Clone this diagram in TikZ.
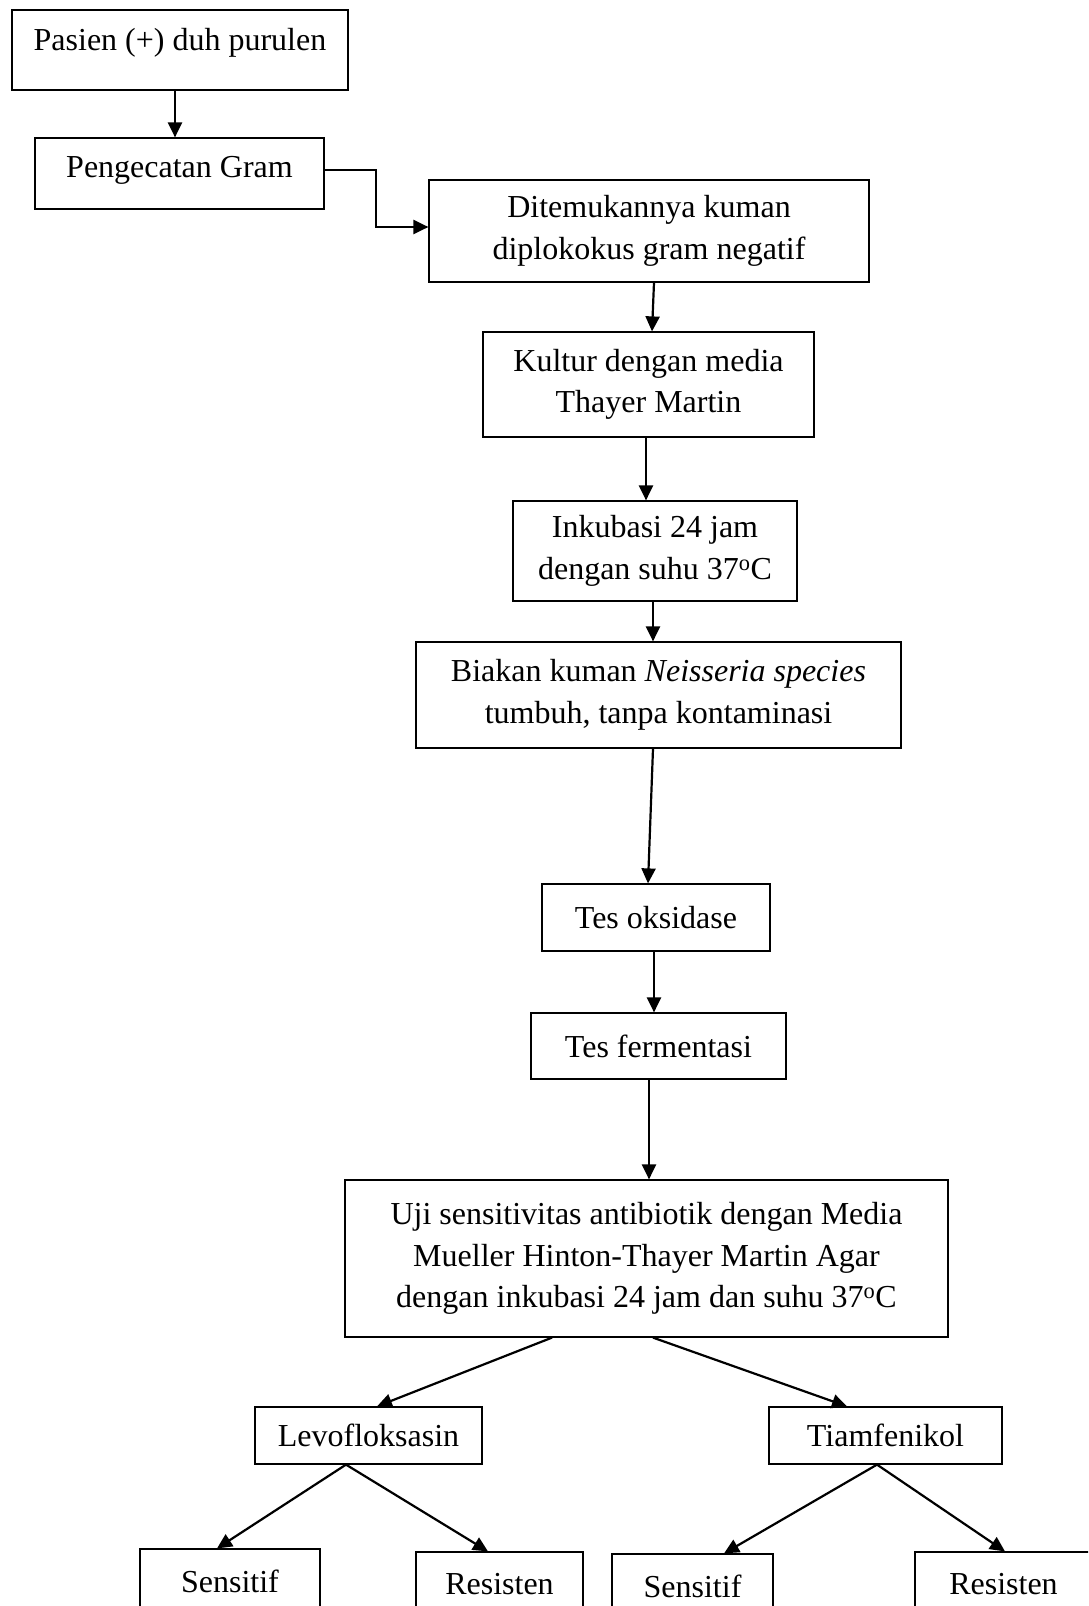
\documentclass[tikz,border=0pt]{standalone}
\usepackage{fontspec}
\setmainfont{Liberation Serif}
\usepackage{tikz}
\usetikzlibrary{arrows.meta,positioning,calc}
\tikzset{
  stepbox/.style={draw=black,line width=1.2pt,align=center,inner sep=0pt,
    font=\fontsize{32}{41.5}\selectfont},
  flow/.style={-{Triangle[length=15pt,width=14pt]},line width=2.2pt}
}
\begin{document}
\begin{tikzpicture}[x=1pt,y=-1pt]
\useasboundingbox (0,0) rectangle (1088,1606);
\clip (0,0) rectangle (1088,1606);
% upper chain
\node[stepbox, minimum width=336pt, minimum height=80pt, text height=21pt, text depth=20pt]
  (pasien) at (180,50) {Pasien (+) duh purulen};
\node[stepbox, minimum width=289pt, minimum height=71pt, text height=21pt, text depth=13pt]
  (gram) at (179.5,173.5) {Pengecatan Gram};
\node[stepbox, minimum width=440pt, minimum height=102pt] (diplo) at (649,231)
  {Ditemukannya kuman\\diplokokus gram negatif};
\node[stepbox, minimum width=331pt, minimum height=105pt] (kultur) at (648.5,384.5)
  {Kultur dengan media\\Thayer Martin};
\node[stepbox, minimum width=284pt, minimum height=100pt] (inkubasi) at (655,551)
  {Inkubasi 24 jam\\dengan suhu 37\textsuperscript{o}C};
\node[stepbox, minimum width=485pt, minimum height=106pt] (biakan) at (658.5,695)
  {Biakan kuman \textit{Neisseria species}\\tumbuh, tanpa kontaminasi};
\node[stepbox, minimum width=228pt, minimum height=67pt] (oksidase) at (656,917.5)
  {Tes oksidase};
\node[stepbox, minimum width=255pt, minimum height=66pt] (fermentasi) at (658.5,1046)
  {Tes fermentasi};
\node[stepbox, minimum width=603pt, minimum height=157pt] (uji) at (646.5,1258.5)
  {Uji sensitivitas antibiotik dengan Media\\Mueller Hinton-Thayer Martin Agar\\dengan inkubasi 24 jam dan suhu 37\textsuperscript{o}C};
% antibiotics and results
\node[stepbox, minimum width=227pt, minimum height=57pt] (levo) at (368.5,1435.5)
  {Levofloksasin};
\node[stepbox, minimum width=233pt, minimum height=57pt] (tiam) at (885.5,1435.5)
  {Tiamfenikol};
\node[stepbox, minimum width=180pt, minimum height=64pt] (sens1) at (230,1581) {Sensitif};
\node[stepbox, minimum width=167pt, minimum height=64pt] (res1) at (499.5,1584) {Resisten};
\node[stepbox, minimum width=161pt, minimum height=64pt] (sens2) at (692.5,1586) {Sensitif};
\node[stepbox, minimum width=177pt, minimum height=64pt] (res2) at (1003.5,1584) {Resisten};
% connectors
\draw[flow] ([xshift=-5pt]pasien.south) -- ([xshift=-4.5pt]gram.north);
\draw[flow] ([yshift=3.5pt]gram.east) -- ++(51,0) |- ([yshift=4pt]diplo.west);
\draw[flow] ([xshift=5pt]diplo.south) -- ([xshift=3.5pt]kultur.north);
\draw[flow] ([xshift=-2.5pt]kultur.south) -- ([xshift=-9pt]inkubasi.north);
\draw[flow] ([xshift=-2pt]inkubasi.south) -- ([xshift=-5.5pt]biakan.north);
\draw[flow] ([xshift=-5.5pt]biakan.south) -- ([xshift=-8pt]oksidase.north);
\draw[flow] ([xshift=-2pt]oksidase.south) -- ([xshift=-4.5pt]fermentasi.north);
\draw[flow] ([xshift=-9.5pt]fermentasi.south) -- ([xshift=2.5pt]uji.north);
\draw[flow] ([xshift=-94.5pt]uji.south) -- ([xshift=8.5pt]levo.north);
\draw[flow] ([xshift=6.5pt]uji.south) -- ([xshift=-38.5pt]tiam.north);
\draw[flow] ([xshift=-22.5pt]levo.south) -- ([xshift=-13pt]sens1.north);
\draw[flow] ([xshift=-22.5pt]levo.south) -- ([xshift=-11.5pt]res1.north);
\draw[flow] ([xshift=-8.5pt]tiam.south) -- ([xshift=31.5pt]sens2.north);
\draw[flow] ([xshift=-8.5pt]tiam.south) -- ([xshift=1.5pt]res2.north);
\end{tikzpicture}
\end{document}
